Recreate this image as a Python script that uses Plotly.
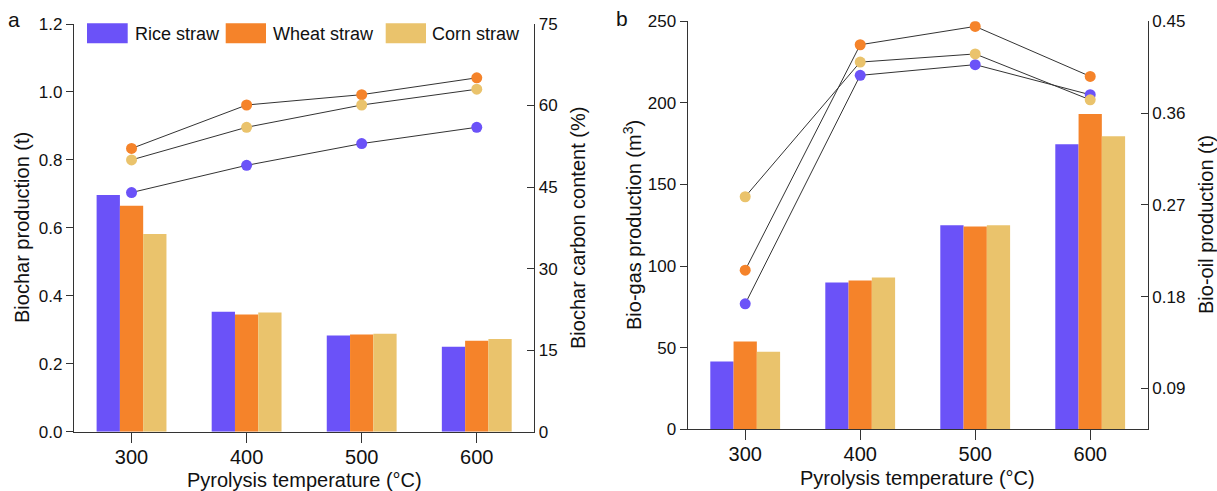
import plotly.graph_objects as go

W, H = 1217, 491

temps = ["300", "400", "500", "600"]
series = ["Rice straw", "Wheat straw", "Corn straw"]
colors = ["#6b52f8", "#f5832a", "#eac36c"]

# Panel a
biochar_prod = {
    "Rice straw": [0.697, 0.353, 0.283, 0.250],
    "Wheat straw": [0.665, 0.345, 0.286, 0.268],
    "Corn straw": [0.582, 0.351, 0.288, 0.273],
}
carbon_content = {
    "Rice straw": [44.0, 49.0, 53.0, 56.0],
    "Wheat straw": [52.1, 60.1, 62.0, 65.1],
    "Corn straw": [50.0, 56.0, 60.1, 63.0],
}
# Panel b
biogas_prod = {
    "Rice straw": [41.5, 89.9, 125.0, 174.6],
    "Wheat straw": [53.8, 91.1, 124.3, 193.2],
    "Corn straw": [47.5, 93.0, 125.1, 179.5],
}
biooil_prod = {
    "Rice straw": [0.173, 0.397, 0.4075, 0.378],
    "Wheat straw": [0.206, 0.427, 0.445, 0.396],
    "Corn straw": [0.278, 0.410, 0.418, 0.373],
}

left_ticks_a = [0, 0.2, 0.4, 0.6, 0.8, 1.0, 1.2]
right_ticks_a = [0, 15, 30, 45, 60, 75]
left_ticks_b = [0, 50, 100, 150, 200, 250]
right_ticks_b = [0.09, 0.18, 0.27, 0.36, 0.45]

FONT = "Liberation Sans, Arial, sans-serif"
AX = "#333333"

fig = go.Figure()

for s, c in zip(series, colors):
    fig.add_trace(go.Bar(x=temps, y=biochar_prod[s], name=s, marker=dict(color=c, line=dict(width=0)),
                         xaxis="x", yaxis="y", offsetgroup=s, showlegend=False))
for s, c in zip(series, colors):
    fig.add_trace(go.Scatter(x=temps, y=carbon_content[s], mode="lines+markers",
                             line=dict(color=AX, width=1), marker=dict(color=c, size=11),
                             xaxis="x", yaxis="y2", showlegend=False))
for s, c in zip(series, colors):
    fig.add_trace(go.Bar(x=temps, y=biogas_prod[s], name=s, marker=dict(color=c, line=dict(width=0)),
                         xaxis="x2", yaxis="y3", offsetgroup=s, showlegend=False))
for s, c in zip(series, colors):
    fig.add_trace(go.Scatter(x=temps, y=biooil_prod[s], mode="lines+markers",
                             line=dict(color=AX, width=1), marker=dict(color=c, size=11),
                             xaxis="x2", yaxis="y4", showlegend=False))

xa_dom = [74 / W, 534.3 / W]
xb_dom = [687.7 / W, 1147.7 / W]
ya_dom = [(H - 431.7) / H, (H - 24) / H]
yb_dom = [(H - 429.3) / H, (H - 21.3) / H]

tickfont_x = dict(family=FONT, size=20, color="#111")
tickfont_y = dict(family=FONT, size=17, color="#111")

xcommon = dict(type="category", range=[-0.5, 3.5], showline=True, linecolor=AX, linewidth=1.3,
               ticks="outside", ticklen=10, tickwidth=1.3, tickcolor=AX, tickfont=tickfont_x,
               ticklabelstandoff=-3, showgrid=False, zeroline=False, fixedrange=True,
               automargin=False)
ycommon = dict(showline=True, linecolor=AX, linewidth=1.3, tickwidth=1.3, tickcolor=AX,
               tickfont=tickfont_y, showgrid=False, zeroline=False, automargin=False)

fig.update_layout(
    template="none",
    width=W, height=H, autosize=False,
    margin=dict(l=0, r=0, t=0, b=0, pad=0),
    paper_bgcolor="white", plot_bgcolor="white",
    barmode="group", bargap=0.393, bargroupgap=0,
    font=dict(family=FONT, color="#111"),
    xaxis=dict(domain=xa_dom, anchor="y", **xcommon),
    yaxis=dict(domain=ya_dom, anchor="x", range=[0, 1.2], tickvals=left_ticks_a, tickformat=".1f",
               ticks="outside", ticklen=7, **ycommon),
    yaxis2=dict(domain=ya_dom, anchor="x", overlaying="y", side="right", range=[0, 75],
                tickvals=right_ticks_a, ticks="inside", ticklen=7, **ycommon),
    xaxis2=dict(domain=xb_dom, anchor="y3", **xcommon),
    yaxis3=dict(domain=yb_dom, anchor="x2", range=[0, 250], tickvals=left_ticks_b,
                ticks="outside", ticklen=7, **ycommon),
    yaxis4=dict(domain=yb_dom, anchor="x2", overlaying="y3", side="right", range=[0.05, 0.45],
                tickvals=right_ticks_b, tickformat=".2f", ticks="inside", ticklen=7, **ycommon),
)

# legend (manual, large swatches)
shapes = []
annotations = []
leg_sw = [(87, 127.7, 133), (225.7, 266, 270.7), (385.7, 426, 430)]
for (x0, x1, tx), s, c in zip(leg_sw, series, colors):
    shapes.append(dict(type="rect", xref="paper", yref="paper", x0=x0 / W, x1=x1 / W,
                       y0=(H - 43.3) / H, y1=(H - 23.3) / H, fillcolor=c, line=dict(width=0)))
    annotations.append(dict(text=s, xref="paper", yref="paper", x=tx / W, y=(H - 33.5) / H,
                            xanchor="left", yanchor="middle", showarrow=False,
                            font=dict(family=FONT, size=18, color="#111")))


def txt(t, x, y, angle=0, size=20):
    annotations.append(dict(text=t, xref="paper", yref="paper", x=x / W, y=(H - y) / H,
                            xanchor="center", yanchor="middle", showarrow=False, textangle=angle,
                            font=dict(family=FONT, size=size, color="#111")))


txt("Pyrolysis temperature (°C)", 304, 480)
txt("Pyrolysis temperature (°C)", 917, 478)
txt("Biochar production (t)", 22, 228, -90)
txt("Biochar carbon content (%)", 578, 228, -90)
txt("Bio-gas production (m<sup>3</sup>)", 633, 225, -90)
txt("Bio-oil production (t)", 1206, 225, -90)
txt("a", 14, 20, size=21)
txt("b", 622, 19, size=21)

fig.update_layout(shapes=shapes, annotations=annotations)

fig.write_html("out.html", config={"responsive": False})
